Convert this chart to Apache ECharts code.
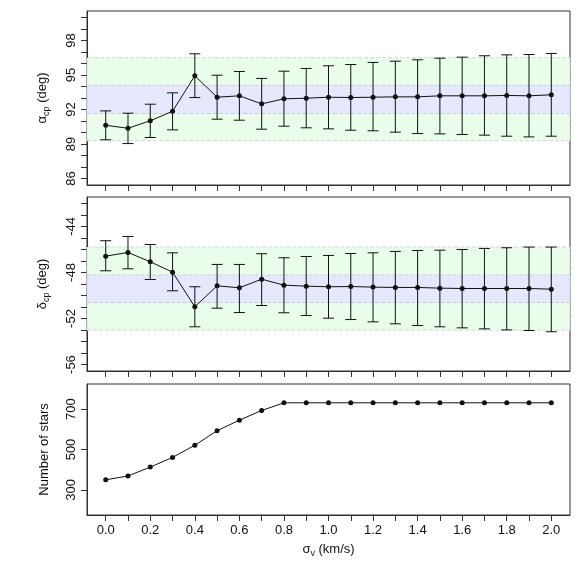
<!DOCTYPE html>
<html>
<head>
<meta charset="utf-8">
<script src="https://cdn.jsdelivr.net/npm/echarts@6/dist/echarts.min.js"></script>
<style>
  html, body { margin: 0; padding: 0; background: #fff; }
  #main { width: 581px; height: 581px; }
</style>
</head>
<body>
<div id="main"></div>
<script>
// sigma_v values (km/s)
var sigmaV = [0.0, 0.1, 0.2, 0.3, 0.4, 0.5, 0.6, 0.7, 0.8, 0.9, 1.0,
              1.1, 1.2, 1.3, 1.4, 1.5, 1.6, 1.7, 1.8, 1.9, 2.0];

// alpha_cp (deg) with error bar ends
var alphaVal = [90.63, 90.37, 91.02, 91.85, 94.93, 93.07, 93.19, 92.49, 92.93, 92.98, 93.07,
                93.04, 93.07, 93.10, 93.10, 93.19, 93.19, 93.19, 93.22, 93.19, 93.28];
var alphaHi  = [91.88, 91.68, 92.46, 93.45, 96.84, 94.98, 95.30, 94.70, 95.33, 95.57, 95.80,
                95.91, 96.09, 96.20, 96.32, 96.46, 96.55, 96.67, 96.75, 96.78, 96.87];
var alphaLo  = [89.37, 89.04, 89.57, 90.23, 93.04, 91.16, 91.07, 90.29, 90.55, 90.41, 90.32,
                90.20, 90.15, 90.03, 89.91, 89.88, 89.83, 89.77, 89.68, 89.62, 89.68];

// delta_cp (deg) with error bar ends
var deltaVal = [-46.58, -46.26, -47.07, -47.97, -50.98, -49.16, -49.33, -48.58, -49.10, -49.19, -49.24,
                -49.22, -49.27, -49.30, -49.30, -49.36, -49.39, -49.39, -49.39, -49.39, -49.45];
var deltaHi  = [-45.24, -44.87, -45.57, -46.29, -49.24, -47.30, -47.30, -46.37, -46.72, -46.61, -46.52,
                -46.35, -46.29, -46.17, -46.09, -46.06, -46.00, -45.91, -45.85, -45.79, -45.79];
var deltaLo  = [-47.85, -47.68, -48.61, -49.59, -52.72, -51.10, -51.48, -50.87, -51.50, -51.74, -51.97,
                -52.09, -52.29, -52.46, -52.61, -52.72, -52.81, -52.90, -52.99, -53.04, -53.15];

// number of stars
var nStars = [350, 369, 413, 461, 521, 593, 645, 693, 731, 731, 731,
              731, 731, 731, 731, 731, 731, 731, 731, 731, 731];

// reference bands: [outer lo, inner lo, inner hi, outer hi]
var alphaBand = [89.28, 91.65, 94.09, 96.50];
var deltaBand = [-53.01, -50.61, -48.23, -45.79];

// tick positions
var xTicks = [0.0, 0.1, 0.2, 0.3, 0.4, 0.5, 0.6, 0.7, 0.8, 0.9, 1.0,
              1.1, 1.2, 1.3, 1.4, 1.5, 1.6, 1.7, 1.8, 1.9, 2.0];
var xLabels = [0.0, 0.2, 0.4, 0.6, 0.8, 1.0, 1.2, 1.4, 1.6, 1.8, 2.0];
var alphaTicks = [86, 87, 88, 89, 90, 91, 92, 93, 94, 95, 96, 97, 98, 99, 100];
var alphaLabels = [86, 89, 92, 95, 98];
var deltaTicks = [-56, -55, -54, -53, -52, -51, -50, -49, -48, -47, -46, -45, -44, -43, -42];
var deltaLabels = [-56, -52, -48, -44];
var starLabels = [300, 500, 700];

var FONT = '"Liberation Sans", Arial, sans-serif';
var ink = '#111';

function pairs(ys) {
    return sigmaV.map(function (x, i) { return [x, ys[i]]; });
}
function errData(lo, hi) {
    return sigmaV.map(function (x, i) { return [x, lo[i], hi[i]]; });
}

function errorBars(idx, lo, hi) {
    return {
        type: 'custom',
        xAxisIndex: idx,
        yAxisIndex: idx,
        data: errData(lo, hi),
        z: 3,
        silent: true,
        renderItem: function (params, api) {
            var x = api.value(0);
            var pLo = api.coord([x, api.value(1)]);
            var pHi = api.coord([x, api.value(2)]);
            var hw = 5.5;
            var st = { stroke: ink, lineWidth: 1, fill: null };
            return {
                type: 'group',
                children: [
                    { type: 'line', shape: { x1: pLo[0], y1: pLo[1], x2: pHi[0], y2: pHi[1] }, style: st },
                    { type: 'line', shape: { x1: pLo[0] - hw, y1: pLo[1], x2: pLo[0] + hw, y2: pLo[1] }, style: st },
                    { type: 'line', shape: { x1: pHi[0] - hw, y1: pHi[1], x2: pHi[0] + hw, y2: pHi[1] }, style: st }
                ]
            };
        }
    };
}

function bandArea(b) {
    return {
        silent: true,
        data: [
            [{ yAxis: b[0], itemStyle: { color: '#eafdea', borderColor: '#c9dcd0', borderWidth: 1, borderType: 'dashed' } }, { yAxis: b[3] }],
            [{ yAxis: b[1], itemStyle: { color: '#e6e8fd', borderColor: '#c6cbe6', borderWidth: 1, borderType: 'dashed' } }, { yAxis: b[2] }]
        ]
    };
}

function lineSeries(idx, ys, band) {
    var s = {
        type: 'line',
        xAxisIndex: idx,
        yAxisIndex: idx,
        data: pairs(ys),
        symbol: 'circle',
        symbolSize: 5,
        z: 4,
        silent: true,
        lineStyle: { color: ink, width: 1 },
        itemStyle: { color: ink }
    };
    if (band) s.markArea = bandArea(band);
    return s;
}

function xAxisFor(idx, showLabels) {
    return {
        type: 'value',
        gridIndex: idx,
        position: 'bottom',
        min: -0.084,
        max: 2.084,
        splitLine: { show: false },
        axisLine: { show: true, onZero: false, lineStyle: { color: '#333' } },
        axisTick: { show: true, inside: false, length: 6, customValues: xTicks, lineStyle: { color: '#333' } },
        axisLabel: {
            show: showLabels, customValues: xLabels, margin: 9,
            color: '#111', fontSize: 13, fontFamily: FONT,
            formatter: function (v) { return v.toFixed(1); }
        },
        name: showLabels ? '{a|σ}{s|v}{a| (km/s)}' : '',
        nameLocation: 'middle',
        nameGap: 25,
        nameTextStyle: {
            fontFamily: FONT, color: '#111',
            rich: {
                a: { fontSize: 13, fontFamily: FONT, color: '#111', lineHeight: 18 },
                s: { fontSize: 9, fontFamily: FONT, color: '#111', lineHeight: 10, verticalAlign: 'bottom' }
            }
        }
    };
}

function yAxisFor(idx, min, max, ticks, labels, name) {
    return {
        type: 'value',
        gridIndex: idx,
        position: 'left',
        min: min,
        max: max,
        splitLine: { show: false },
        axisLine: { show: true, onZero: false, lineStyle: { color: '#333' } },
        axisTick: { show: true, inside: false, length: 6, customValues: ticks, lineStyle: { color: '#333' } },
        axisLabel: {
            customValues: labels, rotate: 90, margin: 9,
            color: '#111', fontSize: 13, fontFamily: FONT
        },
        name: name,
        nameLocation: 'middle',
        nameRotate: 90,
        nameGap: 36,
        nameTextStyle: {
            fontFamily: FONT, color: '#111', fontSize: 13,
            rich: {
                a: { fontSize: 13, fontFamily: FONT, color: '#111', lineHeight: 18 },
                s: { fontSize: 9, fontFamily: FONT, color: '#111', lineHeight: 10, verticalAlign: 'bottom' }
            }
        }
    };
}

var gridStyle = { show: true, borderColor: '#333', borderWidth: 1, backgroundColor: 'transparent' };

var option = {
    animation: false,
    backgroundColor: '#fff',
    grid: [
        Object.assign({ left: 87, top: 11, width: 483, height: 174 }, gridStyle),
        Object.assign({ left: 87, top: 197, width: 483, height: 174 }, gridStyle),
        Object.assign({ left: 87, top: 384, width: 483, height: 131 }, gridStyle)
    ],
    xAxis: [
        xAxisFor(0, false),
        xAxisFor(1, false),
        xAxisFor(2, true)
    ],
    yAxis: [
        yAxisFor(0, 85.44, 100.56, alphaTicks, alphaLabels, '{a|α}{s|cp}{a| (deg)}'),
        yAxisFor(1, -56.56, -41.44, deltaTicks, deltaLabels, '{a|δ}{s|cp}{a| (deg)}'),
        yAxisFor(2, 176, 824, starLabels, starLabels, 'Number of stars')
    ],
    series: [
        lineSeries(0, alphaVal, alphaBand),
        errorBars(0, alphaLo, alphaHi),
        lineSeries(1, deltaVal, deltaBand),
        errorBars(1, deltaLo, deltaHi),
        lineSeries(2, nStars, null)
    ]
};

var myChart = echarts.init(document.getElementById('main'), null, { renderer: 'canvas' });
myChart.setOption(option);
</script>
</body>
</html>
